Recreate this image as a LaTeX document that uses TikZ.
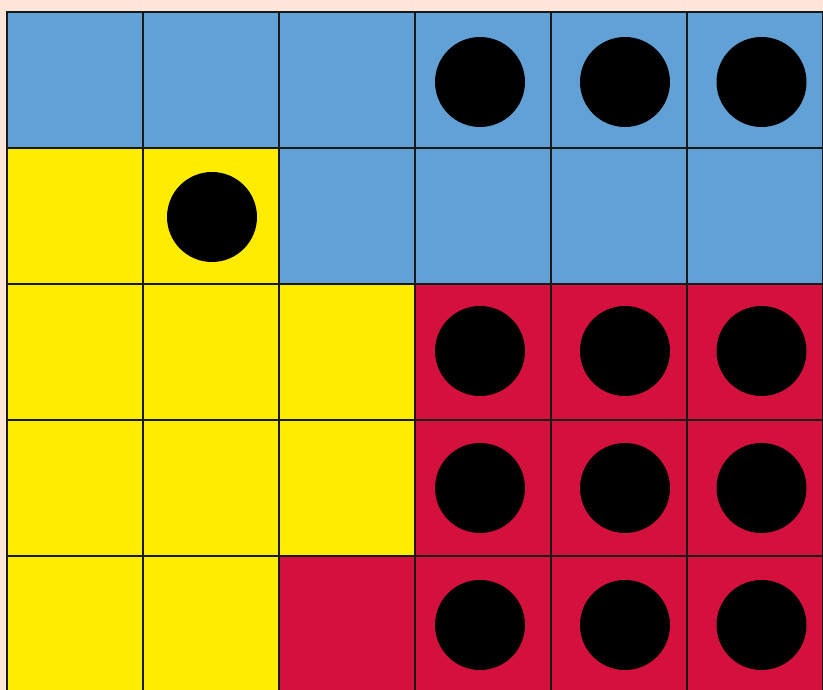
\documentclass[tikz,border=0pt]{standalone}
\definecolor{bgpeach}{RGB}{253,229,216}
\definecolor{cblue}{RGB}{98,161,214}
\definecolor{cyellow}{RGB}{255,236,0}
\definecolor{cred}{RGB}{212,17,60}
\begin{document}
\begin{tikzpicture}[x=1pt,y=1pt,
  cell/.style={draw=black!90, line width=2pt, minimum size=136pt, inner sep=0pt, outer sep=0pt, anchor=north west},
  disc/.style={circle, fill=black, minimum size=90pt, inner sep=0pt}]
\clip (0,0) rectangle (823,690);
\fill[bgpeach] (0,0) rectangle (823,690);
% rows: 1 = top
\foreach \r/\cols in {1/{cblue,cblue,cblue,cblue,cblue,cblue},
                      2/{cyellow,cyellow,cblue,cblue,cblue,cblue},
                      3/{cyellow,cyellow,cyellow,cred,cred,cred},
                      4/{cyellow,cyellow,cyellow,cred,cred,cred},
                      5/{cyellow,cyellow,cred,cred,cred,cred}}{
  \foreach \c [count=\i] in \cols {
    \node[cell, fill=\c] (c\r\i) at ({7+136*(\i-1)}, {690-12-136*(\r-1)}) {};
  }
}
% discs
\node[disc] (d14) at (480,{690-82}) {};
\node[disc] (d15) at (625,{690-82}) {};
\node[disc] (d16) at (761.5,{690-82}) {};
\node[disc] (d22) at (212,{690-217}) {};
\foreach \r/\y in {3/351,4/488,5/625}{
  \node[disc] (d\r4) at (480,{690-\y}) {};
  \node[disc] (d\r5) at (625,{690-\y}) {};
  \node[disc] (d\r6) at (761.5,{690-\y}) {};
}
\end{tikzpicture}
\end{document}
